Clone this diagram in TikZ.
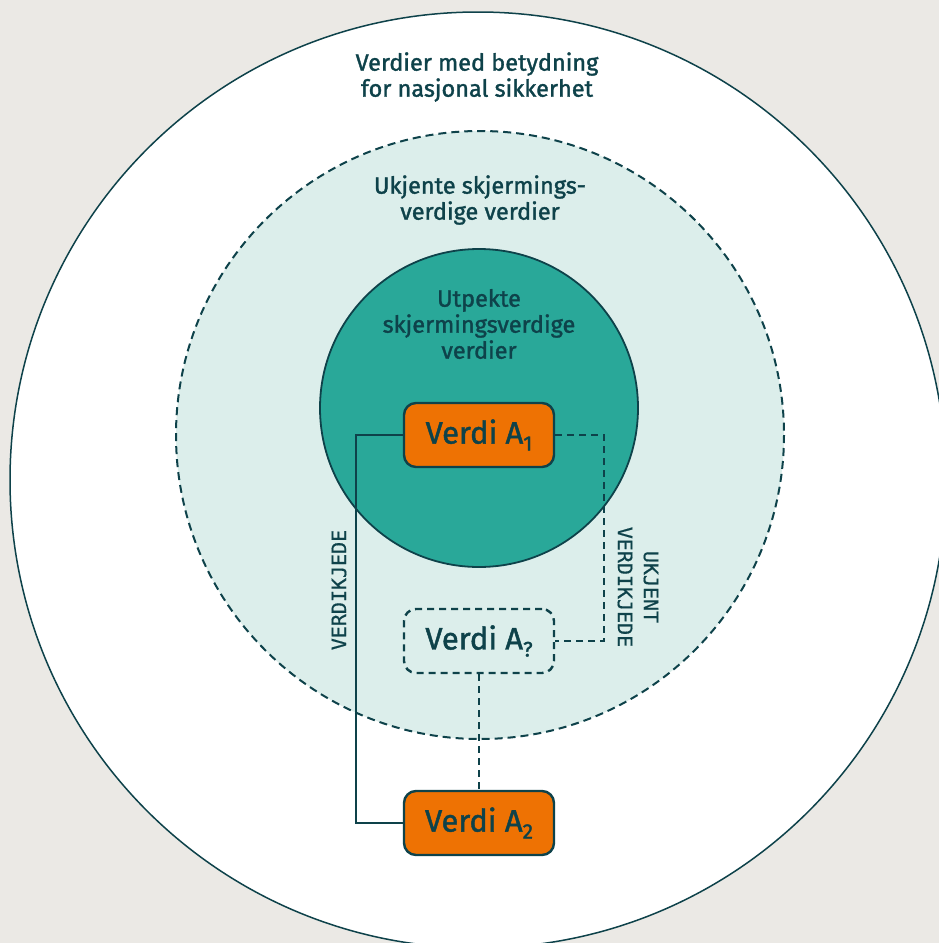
\documentclass[tikz,border=0pt]{standalone}
\usepackage{fontspec}
\setmainfont{Fira Sans}[FakeBold=1.4]
\newfontfamily\labelmono{DejaVu Sans Mono}[FakeBold=0.6]
\usepackage{tikz}
\usetikzlibrary{positioning, calc}

\definecolor{pagebg}{HTML}{EBE9E5}
\definecolor{darkteal}{HTML}{0E424A}
\definecolor{midteal}{HTML}{29A899}
\definecolor{paleteal}{HTML}{DCEEEB}
\definecolor{valorange}{HTML}{EE7203}

\newcommand{\valsub}[1]{\raisebox{-7pt}{\fontsize{21}{21}\selectfont #1}}

\begin{document}
\begin{tikzpicture}[x=1pt, y=-1pt,
    ringtext/.style={align=center, text=darkteal, font=\fontsize{23.5}{26}\selectfont},
    valbox/.style={draw=darkteal, line width=2.4pt, fill=valorange, rounded corners=12pt,
      minimum width=150pt, minimum height=64pt, text=darkteal, font=\fontsize{31}{32}\selectfont},
    unknownbox/.style={valbox, fill=none, dashed, dash pattern=on 7pt off 5pt},
    chainlabel/.style={text=darkteal, align=center, font=\labelmono\fontsize{20}{26}\selectfont},
    chain/.style={draw=darkteal, line width=2pt},
    unknownchain/.style={chain, dash pattern=on 7pt off 5pt}]
  \useasboundingbox (0,0) rectangle (939,943);
  \fill[pagebg] (0,0) rectangle (939,943);
  \clip (0,0) rectangle (939,943);
  % --- circles ---
  \draw[darkteal, line width=1.5pt, fill=white] (478,480) circle (468);
  \draw[darkteal, line width=2pt, fill=paleteal, dash pattern=on 8pt off 5pt] (480,435) circle (304);
  \draw[darkteal, line width=1.8pt, fill=midteal] (479,408) circle (159);
  % --- ring texts ---
  \node[ringtext] (natsec) at (477,77) {Verdier med betydning\\for nasjonal sikkerhet};
  \node[ringtext] (unknownvals) at (480,200) {Ukjente skjermings-\\verdige verdier};
  \node[ringtext] (namedvals) at (479,324) {Utpekte\\skjermingsverdige\\verdier};
  % --- values ---
  \node[valbox] (a1) at (479,435) {Verdi A\valsub{1}};
  \node[unknownbox] (ax) at (479,641) {Verdi A\valsub{?}};
  \node[valbox] (a2) at (479,823) {Verdi A\valsub{2}};
  % --- chains ---
  \draw[chain] (a1.west) -- ++(-47,0) |- (a2.west);
  \draw[unknownchain] (a1.east) -- ++(49,0) |- (ax.east);
  \draw[unknownchain] (ax.south) -- (a2.north);
  \node[chainlabel, rotate=90] (known) at (339,590) {VERDIKJEDE};
  \node[chainlabel, rotate=-90] (unknown) at (638,587) {UKJENT\\VERDIKJEDE};
\end{tikzpicture}
\end{document}
